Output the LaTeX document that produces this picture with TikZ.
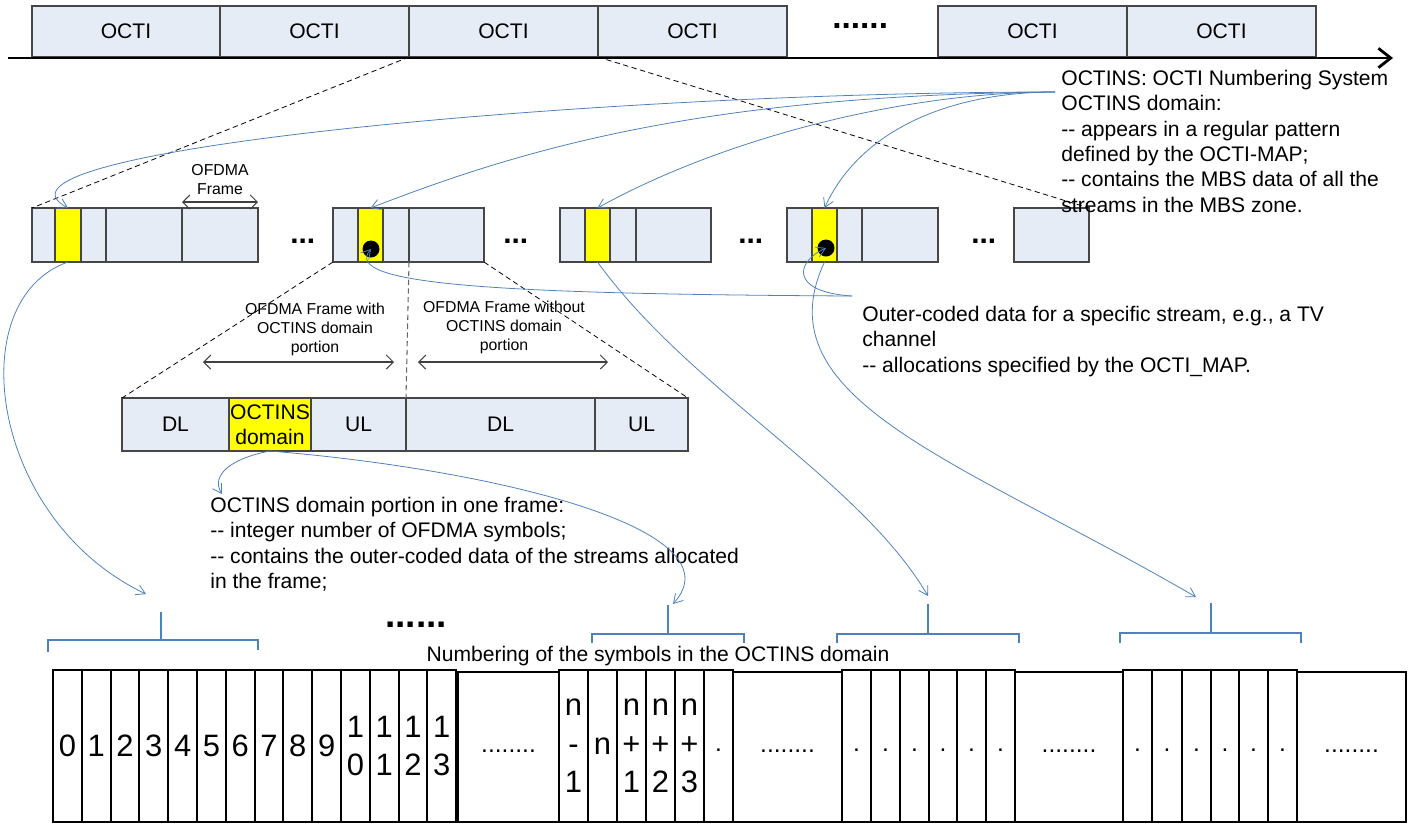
\documentclass[tikz,border=0pt]{standalone}
\usepackage{fontspec}
\setmainfont{Liberation Sans}
\usetikzlibrary{arrows.meta}
\definecolor{framefill}{RGB}{229,236,246}
\definecolor{framedraw}{RGB}{70,70,70}
\definecolor{ybox}{RGB}{255,255,0}
\definecolor{cblue}{RGB}{79,129,189}
% cell: style, name, x1, x2, y1, y2, text
\newcommand\cellnode[7]{\node[#1, minimum width={((#4)-(#3))*0.02cm}, minimum height={((#6)-(#5))*0.02cm}] (#2) at ({((#3)+(#4))/2},{((#5)+(#6))/2}) {#7};}
\begin{document}
\begin{tikzpicture}[x=0.02cm,y=-0.02cm,
  frseg/.style={draw=framedraw, fill=framefill, line width=0.6pt, inner sep=0pt, outer sep=0pt, align=center, font=\fontsize{12pt}{14.4pt}\selectfont},
  yseg/.style={draw=framedraw, fill=ybox, line width=0.6pt, inner sep=0pt, outer sep=0pt, align=center, font=\fontsize{12pt}{14.4pt}\selectfont},
  symbox/.style={draw=black, line width=1.1pt, inner sep=0pt, outer sep=0pt, align=center, font=\fontsize{17.6pt}{22pt}\selectfont},
  dotbox/.style={draw=black, line width=1.1pt, inner sep=0pt, outer sep=0pt, font=\fontsize{14pt}{17pt}\selectfont},
  bigtext/.style={font=\fontsize{12pt}{14.4pt}\selectfont, inner sep=0pt},
  smalltext/.style={font=\fontsize{9pt}{10.8pt}\selectfont, inner sep=0pt, align=center},
  bluelink/.style={draw=cblue, line width=0.45pt, -{Straight Barb[length=5pt,width=6pt]}},
  bracketline/.style={draw=cblue, line width=0.7pt},
  dashline/.style={draw=black, line width=0.45pt, dash pattern=on 3pt off 2pt},
  spanarrow/.style={draw=black!75, line width=0.6pt, {Straight Barb[length=4pt,width=8pt]}-{Straight Barb[length=4pt,width=8pt]}},
  boldots/.style={inner sep=0pt, anchor=base west},
]
\useasboundingbox (0,0) rectangle (1414,823);

% ---- top OCTI strip ----
\foreach \n/\a/\b in {o1/32/220, o2/220/409, o3/409/598, o4/598/787, o6/938/1127, o7/1127/1316}
  {\cellnode{frseg}{\n}{\a}{\b}{6}{57}{OCTI}}
\node[boldots, font=\fontsize{19pt}{19pt}\selectfont\bfseries] (tdots) at (832,28) {......};
\coordinate (axL) at (8,58);
\coordinate (axR) at (1393,58);
\draw[line width=1.6pt, -{Straight Barb[length=7pt,width=11pt]}] (axL) -- (axR);

% ---- frames row ----
\cellnode{frseg}{g1a}{32}{55}{208}{262}{}
\cellnode{yseg}{g1y}{55}{81}{208}{262}{}
\cellnode{frseg}{g1b}{81}{106}{208}{262}{}
\cellnode{frseg}{g1c}{106}{182}{208}{262}{}
\cellnode{frseg}{g1d}{182}{258}{208}{262}{}

\cellnode{frseg}{g2a}{333}{358}{208}{262}{}
\cellnode{yseg}{g2y}{358}{383}{208}{262}{}
\cellnode{frseg}{g2b}{383}{409}{208}{262}{}
\cellnode{frseg}{g2c}{409}{484}{208}{262}{}

\cellnode{frseg}{g3a}{560}{585}{208}{262}{}
\cellnode{yseg}{g3y}{585}{610}{208}{262}{}
\cellnode{frseg}{g3b}{610}{636}{208}{262}{}
\cellnode{frseg}{g3c}{636}{711}{208}{262}{}

\cellnode{frseg}{g4a}{787}{812}{208}{262}{}
\cellnode{yseg}{g4y}{812}{837}{208}{262}{}
\cellnode{frseg}{g4b}{837}{862}{208}{262}{}
\cellnode{frseg}{g4c}{862}{938}{208}{262}{}

\cellnode{frseg}{g5a}{1014}{1089}{208}{262}{}

\node[circle, fill=black, inner sep=0pt, minimum size=0.34cm] (g2dot) at (371,249) {};
\node[circle, fill=black, inner sep=0pt, minimum size=0.34cm] (g4dot) at (826,248) {};

\node[boldots, font=\fontsize{17pt}{17pt}\selectfont\bfseries] (m1) at (290,243) {...};
\node[boldots, font=\fontsize{17pt}{17pt}\selectfont\bfseries] (m2) at (503,243) {...};
\node[boldots, font=\fontsize{17pt}{17pt}\selectfont\bfseries] (m3) at (738,243) {...};
\node[boldots, font=\fontsize{17pt}{17pt}\selectfont\bfseries] (m4) at (971,243) {...};

\coordinate (s1a) at (182,202);
\coordinate (s1b) at (258,202);
\draw[spanarrow] (s1a) -- (s1b);
\node[smalltext] (lab1) at (220,180) {OFDMA\\Frame};

% ---- dashed projections ----
\draw[dashline] (o3.south west) -- (g1a.north west);
\draw[dashline] (o4.south west) -- (g5a.north east);

% ---- detail frame ----
\cellnode{frseg}{d1}{122}{229}{398}{451}{DL}
\cellnode{yseg}{dy}{229}{311}{398}{451}{OCTINS\\domain}
\cellnode{frseg}{d3}{311}{406}{398}{451}{UL}
\cellnode{frseg}{d4}{406}{595}{398}{451}{DL}
\cellnode{frseg}{d5}{595}{688}{398}{451}{UL}

\draw[dashline] (g2a.south west) -- (d1.north west);
\draw[dashline] (g2c.south east) -- (d5.north east);
\draw[draw=black!60, line width=0.6pt, dash pattern=on 3pt off 2pt] (g2c.south west) -- (d4.north west);

\coordinate (s2a) at (203,362);
\coordinate (s2b) at (394,362);
\coordinate (s3a) at (418,362);
\coordinate (s3b) at (608,362);
\draw[spanarrow] (s2a) -- (s2b);
\draw[spanarrow] (s3a) -- (s3b);
\node[smalltext, anchor=north] (lab2) at (315,303) {OFDMA Frame with\\OCTINS domain\\portion};
\node[smalltext, anchor=north] (lab3) at (504,301) {OFDMA Frame without\\OCTINS domain\\portion};

% ---- text blocks ----
\node[bigtext, anchor=north west, align=left] (tR) at (1061,70) {OCTINS: OCTI Numbering System\\OCTINS domain:\\-{}- appears in a regular pattern\\defined by the OCTI-MAP;\\-{}- contains the MBS data of all the\\streams in the MBS zone.};
\node[bigtext, anchor=north west, align=left] (tO) at (862,306) {Outer-coded data for a specific stream, e.g., a TV\\channel\\-{}- allocations specified by the OCTI\_MAP.};
\node[bigtext, anchor=north west, align=left] (tD) at (210,497) {OCTINS domain portion in one frame:\\-{}- integer number of OFDMA symbols;\\-{}- contains the outer-coded data of the streams allocated\\in the frame;};
\node[bigtext, anchor=base] (tN) at (658,661) {Numbering of the symbols in the OCTINS domain};
\node[boldots, font=\fontsize{21pt}{21pt}\selectfont\bfseries] (bdots) at (385,627) {......};

% ---- bottom symbol boxes ----
\foreach \i in {0,...,9}
  {\cellnode{symbox}{s\i}{53+\i*28.8}{81.8+\i*28.8}{670}{822}{\i}}
\foreach \i/\a/\b in {10/1/0, 11/1/1, 12/1/2, 13/1/3}
  {\cellnode{symbox}{s\i}{53+\i*28.8}{81.8+\i*28.8}{670}{822}{\a\\\b}}
\cellnode{dotbox}{w1}{458}{559}{672}{822}{\strut........}
\cellnode{symbox}{nm1}{559}{588}{670}{822}{n\\-\\1}
\cellnode{symbox}{n0}{588}{617}{670}{822}{n}
\cellnode{symbox}{np1}{617}{646}{670}{822}{n\\+\\1}
\cellnode{symbox}{np2}{646}{675}{670}{822}{n\\+\\2}
\cellnode{symbox}{np3}{675}{704}{670}{822}{n\\+\\3}
\cellnode{dotbox}{q0}{704}{733}{670}{822}{\strut.}
\cellnode{dotbox}{w2}{733}{842}{672}{822}{\strut........}
\foreach \n/\a/\b in {qa/842/871, qb/871/900, qc/900/929, qd/929/957, qe/957/986, qf/986/1015,
                      ra/1123/1152, rb/1152/1182, rc/1182/1211, rd/1211/1239, re/1239/1268, rf/1268/1297}
  {\cellnode{dotbox}{\n}{\a}{\b}{670}{822}{\strut.}}
\cellnode{dotbox}{w3}{1015}{1123}{672}{822}{\strut........}
\cellnode{dotbox}{w4}{1297}{1406}{672}{822}{\strut........}

% ---- brackets ----
\draw[bracketline] (48,652) -- (48,640) -- (258,640) -- (258,650);
\draw[bracketline] (161,640) -- (161,612);
\draw[bracketline] (592,643) -- (592,634) -- (744,634) -- (744,643);
\draw[bracketline] (668,634) -- (668,605);
\draw[bracketline] (837,643) -- (837,634) -- (1019,634) -- (1019,643);
\draw[bracketline] (928,634) -- (928,604);
\draw[bracketline] (1120,643) -- (1120,633) -- (1301,633) -- (1301,643);
\draw[bracketline] (1211,633) -- (1211,603);

% ---- blue connectors ----
\coordinate (tRanchor) at (1055,92);
\coordinate (tOanchor) at (852,296);
\coordinate (a1) at (146,594);
\coordinate (a2) at (673,604);
\coordinate (a3) at (928,596);
\coordinate (a4) at (1196,597);
\coordinate (a5) at (222,494);
\draw[bluelink] (tRanchor) .. controls (600,92) and (-40,150) .. (g1y.north);
\draw[bluelink] (tRanchor) .. controls (700,95) and (520,150) .. (g2y.north);
\draw[bluelink] (tRanchor) .. controls (900,92) and (720,140) .. (g3y.north);
\draw[bluelink] (tRanchor) .. controls (950,92) and (860,130) .. (g4y.north);
\draw[bluelink] (tOanchor) .. controls (500,294) and (340,285) .. (g2dot.center);
\draw[bluelink] (tOanchor) .. controls (790,292) and (795,262) .. (g4dot.center);
\draw[bluelink] (g1y.south) .. controls (-40,300) and (-10,520) .. (a1);
\draw[bluelink] (g3y.south) .. controls (690,390) and (860,480) .. (a3);
\draw[bluelink] (g4y.south) .. controls (760,400) and (960,460) .. (a4);
\draw[bluelink] (dy.south) .. controls (232,458) and (210,475) .. (a5);
\draw[bluelink] (dy.south) .. controls (500,470) and (740,530) .. (a2);
\end{tikzpicture}
\end{document}
